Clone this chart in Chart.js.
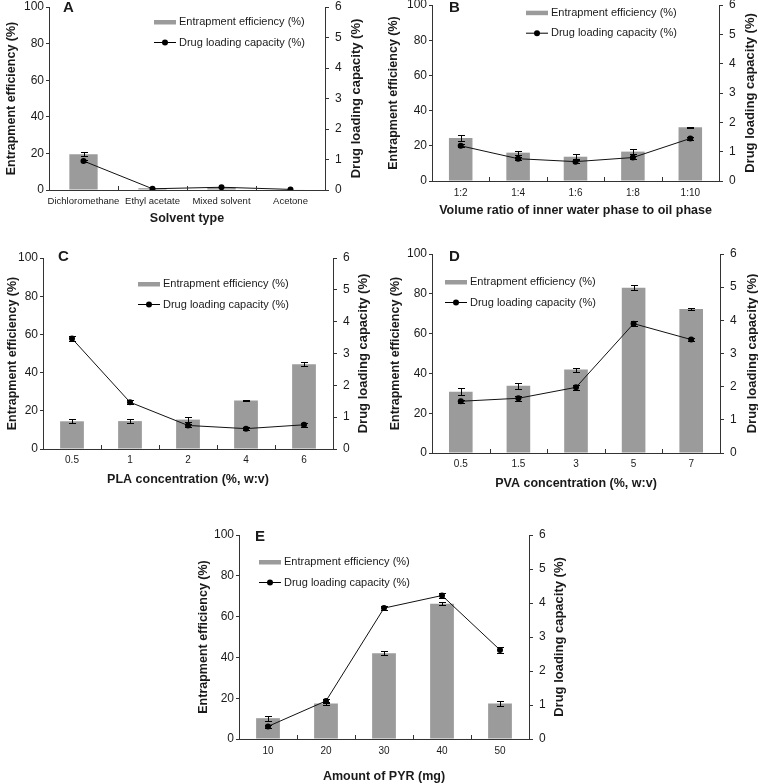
<!DOCTYPE html>
<html>
<head>
<meta charset="utf-8">
<script src="https://cdn.jsdelivr.net/npm/chart.js@4.4.1/dist/chart.umd.min.js"></script>
<style>
    html, body { margin: 0; padding: 0; background: #fff; overflow: hidden; }
    #wrap { position: relative; width: 758px; height: 784px; }
    #wrap canvas { position: absolute; left: 0; top: 0; }
</style>
</head>
<body>
<div id="wrap">
    <canvas id="chartA" width="758" height="784"></canvas>
    <canvas id="chartB" width="758" height="784"></canvas>
    <canvas id="chartC" width="758" height="784"></canvas>
    <canvas id="chartD" width="758" height="784"></canvas>
    <canvas id="chartE" width="758" height="784"></canvas>
</div>
<script>
// ---- data ----
const solventTypes = ['Dichloromethane', 'Ethyl acetate', 'Mixed solvent', 'Acetone'];
const solventEE = [19.5, 1.0, 1.5, 0.3];
const solventEEErr = [1.0, 0, 0, 0];
const solventDL = [0.95, 0.04, 0.09, 0.02];
const solventDLErr = [0.03, 0, 0, 0];

const ratioLabels = ['1:2', '1:4', '1:6', '1:8', '1:10'];
const ratioEE = [24.4, 16.1, 13.8, 16.7, 30.5];
const ratioEEErr = [1.5, 1.2, 1.5, 1.5, 0.4];
const ratioDL = [1.2, 0.76, 0.66, 0.8, 1.45];
const ratioDLErr = [0.05, 0.05, 0.06, 0.05, 0.04];

const plaLabels = ['0.5', '1', '2', '4', '6'];
const plaEE = [14.5, 14.6, 15.4, 25.4, 44.4];
const plaEEErr = [1.0, 1.0, 1.4, 0.4, 1.2];
const plaDL = [3.47, 1.47, 0.74, 0.64, 0.76];
const plaDLErr = [0.07, 0.07, 0.05, 0.04, 0.06];

const pvaLabels = ['0.5', '1.5', '3', '5', '7'];
const pvaEE = [30.8, 33.8, 41.9, 83.0, 72.3];
const pvaEEErr = [1.8, 1.6, 1.0, 1.3, 0.6];
const pvaDL = [1.56, 1.65, 1.98, 3.9, 3.42];
const pvaDLErr = [0.05, 0.08, 0.07, 0.08, 0.05];

const pyrLabels = ['10', '20', '30', '40', '50'];
const pyrEE = [10.2, 17.4, 42.0, 66.3, 17.4];
const pyrEEErr = [1.2, 0.8, 0.9, 0.7, 1.0];
const pyrDL = [0.37, 1.12, 3.85, 4.22, 2.62];
const pyrDLErr = [0.05, 0.05, 0.07, 0.06, 0.1];

const eeTicks = [0, 20, 40, 60, 80, 100];
const dlTicks = [0, 1, 2, 3, 4, 5, 6];

const FONT = '"Liberation Sans", Arial, sans-serif';
const BAR_GREY = '#9b9b9b';
const INK = '#1a1a1a';
const W = 758, H = 784;

Chart.defaults.font.family = FONT;
Chart.defaults.color = INK;

// error bars, axis titles, legend, panel letter, inner x ticks
const decor = {
    id: 'decor',
    afterDatasetsDraw(chart) {
        const ctx = chart.ctx;
        ctx.save();
        ctx.strokeStyle = '#000';
        ctx.lineWidth = 1;
        chart.data.datasets.forEach((ds, di) => {
            const meta = chart.getDatasetMeta(di);
            const sc = chart.scales[ds.yAxisID];
            meta.data.forEach((el, i) => {
                const e = ds.errors[i];
                if (!e) return;
                const v = ds.data[i];
                const yt = Math.round(sc.getPixelForValue(v + e)) + 0.5;
                const yb = Math.round(sc.getPixelForValue(v - e)) + 0.5;
                const cx = Math.round(el.x) + 0.5;
                ctx.beginPath();
                ctx.moveTo(cx, yt); ctx.lineTo(cx, yb);
                ctx.moveTo(cx - 3.5, yt); ctx.lineTo(cx + 3.5, yt);
                ctx.moveTo(cx - 3.5, yb); ctx.lineTo(cx + 3.5, yb);
                ctx.stroke();
            });
        });
        ctx.restore();
    },
    afterDraw(chart, args, o) {
        const ctx = chart.ctx;
        const a = chart.chartArea;
        const x = chart.scales.x;
        ctx.save();

        // small ticks between categories, pointing up
        ctx.strokeStyle = '#333';
        ctx.lineWidth = 1;
        ctx.beginPath();
        for (let i = 0; i < chart.data.labels.length - 1; i++) {
            const bx = Math.round((x.getPixelForTick(i) + x.getPixelForTick(i + 1)) / 2) + 0.5;
            ctx.moveTo(bx, a.bottom);
            ctx.lineTo(bx, a.bottom - 4);
        }
        ctx.stroke();

        // axis titles
        ctx.fillStyle = INK;
        ctx.font = 'bold 12.5px ' + FONT;
        ctx.textAlign = 'center';
        ctx.textBaseline = 'middle';
        ctx.fillText(o.xTitle, (a.left + a.right) / 2, o.xTitleY);
        const midY = (a.top + a.bottom) / 2;
        [[o.yTitleX, 'Entrapment efficiency (%)', 12.5], [o.y2TitleX, 'Drug loading capacity (%)', 13]].forEach(([tx, txt, fs]) => {
            ctx.save();
            ctx.font = 'bold ' + fs + 'px ' + FONT;
            ctx.translate(tx, midY);
            ctx.rotate(-Math.PI / 2);
            ctx.fillText(txt, 0, 0);
            ctx.restore();
        });

        // panel letter
        ctx.font = 'bold 15px ' + FONT;
        ctx.textAlign = 'left';
        ctx.fillText(o.letter, o.letterX, o.letterY);

        // legend
        const bar = chart.data.datasets[1], line = chart.data.datasets[0];
        const lx = o.legendX, ly = o.legendY;
        ctx.fillStyle = BAR_GREY;
        ctx.fillRect(lx, ly - 2, 22, 4.5);
        ctx.strokeStyle = '#000';
        ctx.beginPath();
        ctx.moveTo(lx, ly + 20.5);
        ctx.lineTo(lx + 22, ly + 20.5);
        ctx.stroke();
        ctx.fillStyle = '#000';
        ctx.beginPath();
        ctx.arc(lx + 11, ly + 20.5, 3, 0, 2 * Math.PI);
        ctx.fill();
        ctx.fillStyle = INK;
        ctx.font = '11px ' + FONT;
        ctx.fillText(bar.label, lx + 25, ly);
        ctx.fillText(line.label, lx + 25, ly + 20.5);
        ctx.restore();
    }
};

function makeChart(p) {
    return new Chart(document.getElementById(p.id), {
        type: 'bar',
        data: {
            labels: p.labels,
            datasets: [
                {
                    type: 'line',
                    label: 'Drug loading capacity (%)',
                    data: p.dl,
                    errors: p.dlErr,
                    yAxisID: 'y2',
                    borderColor: '#111',
                    borderWidth: 1,
                    pointRadius: 3,
                    pointBackgroundColor: '#000',
                    pointBorderColor: '#000',
                    pointBorderWidth: 0,
                    tension: 0,
                    order: 0
                },
                {
                    type: 'bar',
                    label: 'Entrapment efficiency (%)',
                    data: p.ee,
                    errors: p.eeErr,
                    yAxisID: 'y',
                    backgroundColor: BAR_GREY,
                    categoryPercentage: 1,
                    barPercentage: 0.41,
                    order: 1
                }
            ]
        },
        options: {
            responsive: false,
            animation: false,
            events: [],
            layout: {
                padding: {
                    left: p.area.l - 40,
                    right: W - p.area.r - 30,
                    top: p.area.t,
                    bottom: H - p.area.b - 24
                }
            },
            plugins: {
                legend: { display: false },
                tooltip: { enabled: false },
                decor: p.decor
            },
            scales: {
                x: {
                    offset: true,
                    grid: { display: false, drawTicks: false },
                    border: { color: '#333', width: 1 },
                    ticks: {
                        color: INK,
                        autoSkip: false,
                        maxRotation: 0,
                        padding: p.xTickPad,
                        font: { size: p.xTickSize || 10 }
                    },
                    afterFit: function (s) {
                        s.height = 24;
                        s.paddingLeft = 0;
                        s.paddingRight = 0;
                    }
                },
                y: {
                    position: 'left',
                    min: 0,
                    max: 100,
                    afterBuildTicks: function (s) { s.ticks = eeTicks.map(v => ({ value: v })); },
                    grid: { drawOnChartArea: false, tickLength: 3, color: '#333' },
                    border: { color: '#333', width: 1 },
                    ticks: { color: INK, padding: 2, font: { size: 12 } },
                    afterFit: function (s) {
                        s.width = 40;
                        s.paddingTop = 0;
                        s.paddingBottom = 0;
                    }
                },
                y2: {
                    position: 'right',
                    min: 0,
                    max: 6,
                    afterBuildTicks: function (s) { s.ticks = dlTicks.map(v => ({ value: v })); },
                    grid: { drawOnChartArea: false, tickLength: 4, color: '#333' },
                    border: { color: '#333', width: 1 },
                    ticks: { color: INK, padding: 6, font: { size: 12 } },
                    afterFit: function (s) {
                        s.width = 30;
                        s.paddingTop = 0;
                        s.paddingBottom = 0;
                    }
                }
            }
        },
        plugins: [decor]
    });
}

const chartA = makeChart({
    id: 'chartA', labels: solventTypes,
    ee: solventEE, eeErr: solventEEErr, dl: solventDL, dlErr: solventDLErr,
    area: { l: 49, t: 7, r: 325, b: 190 }, xTickPad: 6, xTickSize: 9.5,
    decor: { xTitle: 'Solvent type', xTitleY: 219, yTitleX: 12, y2TitleX: 356,
             letter: 'A', letterX: 63, letterY: 8, legendX: 154, legendY: 22 }
});

const chartB = makeChart({
    id: 'chartB', labels: ratioLabels,
    ee: ratioEE, eeErr: ratioEEErr, dl: ratioDL, dlErr: ratioDLErr,
    area: { l: 432, t: 5, r: 719, b: 181 }, xTickPad: 6,
    decor: { xTitle: 'Volume ratio of inner water phase to oil phase', xTitleY: 211, yTitleX: 394, y2TitleX: 750,
             letter: 'B', letterX: 449, letterY: 8, legendX: 526, legendY: 12.7 }
});

const chartC = makeChart({
    id: 'chartC', labels: plaLabels,
    ee: plaEE, eeErr: plaEEErr, dl: plaDL, dlErr: plaDLErr,
    area: { l: 43, t: 258, r: 333, b: 449 }, xTickPad: 5,
    decor: { xTitle: 'PLA concentration (%, w:v)', xTitleY: 480, yTitleX: 12.5, y2TitleX: 363,
             letter: 'C', letterX: 58, letterY: 257, legendX: 138, legendY: 284 }
});

const chartD = makeChart({
    id: 'chartD', labels: pvaLabels,
    ee: pvaEE, eeErr: pvaEEErr, dl: pvaDL, dlErr: pvaDLErr,
    area: { l: 432, t: 254, r: 720, b: 453 }, xTickPad: 5.5,
    decor: { xTitle: 'PVA concentration (%, w:v)', xTitleY: 484, yTitleX: 396, y2TitleX: 752,
             letter: 'D', letterX: 449, letterY: 257, legendX: 445, legendY: 282 }
});

const chartE = makeChart({
    id: 'chartE', labels: pyrLabels,
    ee: pyrEE, eeErr: pyrEEErr, dl: pyrDL, dlErr: pyrDLErr,
    area: { l: 239, t: 535, r: 529, b: 739 }, xTickPad: 6,
    decor: { xTitle: 'Amount of PYR (mg)', xTitleY: 777, yTitleX: 204, y2TitleX: 559,
             letter: 'E', letterX: 255, letterY: 537, legendX: 259, legendY: 562 }
});
</script>
</body>
</html>
